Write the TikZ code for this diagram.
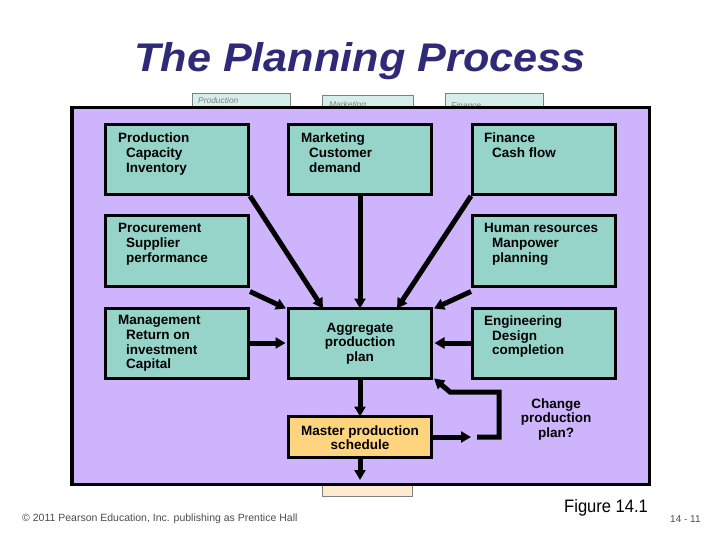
\documentclass[tikz,border=0pt]{standalone}
\usepackage{fontspec}
\setmainfont{Liberation Sans}
\usetikzlibrary{arrows.meta,calc}
\definecolor{panel}{HTML}{CDB4FC}
\definecolor{teal}{HTML}{96D3C8}
\definecolor{mpsfill}{HTML}{FFD47F}
\definecolor{titlec}{HTML}{2E2A78}
\definecolor{stubfill}{HTML}{D6EEEA}
\definecolor{stubfill2}{HTML}{FCEBD0}
\tikzset{
  box/.style={draw=black, line width=3pt, fill=teal, minimum width=143pt, minimum height=70pt, inner sep=0pt},
  btxt/.style={anchor=north west, align=left, inner sep=0pt, font=\bfseries\fontsize{13.5}{14.6}\selectfont},
  ctxt/.style={align=center, inner sep=0pt, font=\bfseries\fontsize{13.5}{14.6}\selectfont},
  arr/.style={line width=5pt, -{Triangle[length=10pt,width=11pt]}},
  stub/.style={draw=gray, line width=1pt, fill=stubfill, inner sep=0pt},
  stubtxt/.style={anchor=west, inner sep=0pt, text=gray, font=\itshape\fontsize{8.4}{9}\selectfont},
}
\newcommand{\ind}{\hspace*{8pt}}
\begin{document}
\begin{tikzpicture}[x=1pt,y=-1pt]
\useasboundingbox (0,0) rectangle (720,540);
% title
\node[font=\bfseries\itshape\fontsize{40}{44}\selectfont, text=titlec, inner sep=0pt, anchor=base] (title) at (360,72) {\scalebox{1.08}[1]{The Planning Process}};
% stubs behind panel
\node[stub, minimum width=98pt, minimum height=24pt, anchor=north west] (s1) at (192,93) {};
\node[stub, minimum width=91pt, minimum height=22pt, anchor=north west] (s2) at (322,95) {};
\node[stub, minimum width=98pt, minimum height=24pt, anchor=north west] (s3) at (445,93) {};
\node[stubtxt] at (198,101) {Production};
\node[stubtxt] at (329,105) {Marketing};
\node[stubtxt] at (451,105) {Finance};
\node[stub, fill=stubfill2, minimum width=90pt, minimum height=20pt, anchor=north west] (s4) at (322,476) {};
% panel
\node[draw=black, line width=3.5pt, fill=panel, minimum width=577.5pt, minimum height=376.5pt, inner sep=0pt] (panel) at (360.5,296) {};
% boxes
\node[box] (prod) at (177,159.5) {};
\node[box] (mkt)  at (360,159.5) {};
\node[box] (fin)  at (544,159.5) {};
\node[box] (proc) at (177,251) {};
\node[box] (hr)   at (544,251) {};
\node[box] (mgmt) at (177,343) {};
\node[box] (agg)  at (360,343) {};
\node[box] (eng)  at (544,343) {};
\node[box, fill=mpsfill, minimum height=41pt] (mps) at (360,437) {};
% texts
\node[btxt] at (118,133) {Production\\\ind Capacity\\\ind Inventory};
\node[btxt] at (301,133) {Marketing\\\ind Customer\\\ind demand};
\node[btxt] at (484,133) {Finance\\\ind Cash flow};
\node[btxt] at (118,223.5) {Procurement\\\ind Supplier\\\ind performance};
\node[btxt] at (484,223.5) {Human resources\\\ind Manpower\\\ind planning};
\node[btxt] at (118,315.5) {Management\\\ind Return on\\\ind investment\\\ind Capital};
\node[btxt] at (484,315.5) {Engineering\\\ind Design\\\ind completion};
\node[ctxt] at (360,343.5) {Aggregate\\production\\plan};
\node[ctxt] at (360,437.5) {Master production\\schedule};
\node[ctxt] (chg) at (556,419.5) {Change\\production\\plan?};
% connectors
\draw[arr] (prod.south east) -- ([xshift=-37pt,yshift=-2pt]agg.north);
\draw[arr] (mkt.south) -- ([yshift=-2pt]agg.north);
\draw[arr] (fin.south west) -- ([xshift=37pt,yshift=-2pt]agg.north);
\draw[arr] ([yshift=-4pt]proc.south east) -- ([xshift=-1pt,yshift=-2pt]agg.north west);
\draw[arr] ([yshift=-4pt]hr.south west) -- ([xshift=1pt,yshift=-2pt]agg.north east);
\draw[arr] (mgmt.east) -- ([xshift=-1.5pt]agg.west);
\draw[arr] (eng.west) -- ([xshift=1.5pt]agg.east);
\draw[arr] (agg.south) -- ([yshift=-1.5pt]mps.north);
\coordinate (mpsout) at (471,437);
\draw[arr] (mps.east) -- (mpsout);
\coordinate (fb1) at (477,437);
\coordinate (fb2) at (499,437);
\coordinate (fb3) at (499,392);
\coordinate (fb4) at (450,392);
\draw[arr] (fb1) -- (fb2) -- (fb3) -- (fb4) -- ([xshift=1pt,yshift=1pt]agg.south east);
\coordinate (mpsdown) at (360,480);
\draw[arr] (mps.south) -- (mpsdown);
% footer
\node[anchor=west, inner sep=0pt, text=black!70, font=\fontsize{10.5}{12}\selectfont] (copy) at (22,519) {© 2011 Pearson Education, Inc. publishing as Prentice Hall};
\node[anchor=west, inner sep=0pt, text=black!70, font=\fontsize{10}{12}\selectfont] (pg) at (670,519) {14 - 11};
\node[anchor=west, inner sep=0pt, font=\fontsize{18}{20}\selectfont] (fig) at (564,508) {\scalebox{0.92}[1]{Figure 14.1}};
\end{tikzpicture}
\end{document}
